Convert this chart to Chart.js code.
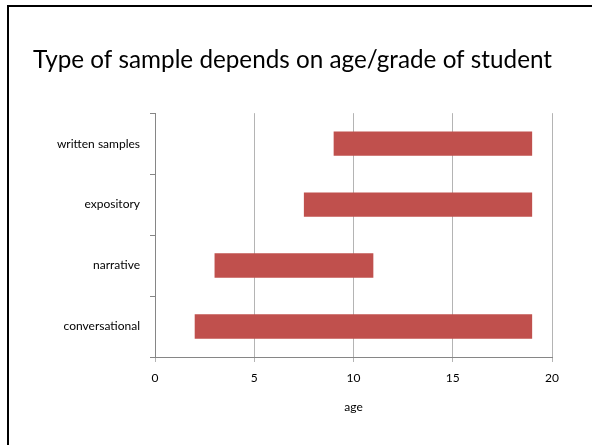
<!DOCTYPE html>
<html>
<head>
<meta charset="utf-8">
<script src="https://cdn.jsdelivr.net/npm/chart.js@4"></script>
<style>
  body { margin: 0; background: #fff; }
  #wrap { position: relative; width: 592px; height: 445px; overflow: hidden; }
  #frame { position: absolute; left: 7px; top: 5px; width: 600px; height: 460px;
           border-left: 2.5px solid #000; border-top: 2.5px solid #000; }
  canvas { position: absolute; left: 0; top: 0; }
</style>
</head>
<body>
<div id="wrap">
  <div id="frame"></div>
  <canvas id="ageChart" width="592" height="445"></canvas>
</div>
<script>
// categories listed top to bottom
const categories = ["written samples", "expository", "narrative", "conversational"];
const startAge = [9, 7.5, 3, 2];
const endAge = [19, 19, 11, 19];
const ageTicks = [0, 5, 10, 15, 20];

const ranges = categories.map((c, i) => [startAge[i], endAge[i]]);

const ctx = document.getElementById("ageChart").getContext("2d");
const ageChart = new Chart(ctx, {
  type: "bar",
  data: {
    labels: categories,
    datasets: [
      {
        label: "age range",
        data: ranges,
        backgroundColor: "#C0504D",
        borderWidth: 0,
        barPercentage: 0.4,
        categoryPercentage: 1,
      },
    ],
  },
  options: {
    indexAxis: "y",
    responsive: false,
    animation: false,
    layout: { padding: { left: 33, right: 40, top: 0, bottom: 28 } },
    plugins: {
      legend: { display: false },
      tooltip: { enabled: false },
      title: {
        display: true,
        text: "Type of sample depends on age/grade of student",
        align: "start",
        color: "#000",
        font: { family: "Lato", size: 24.3, weight: "normal" },
        padding: { top: 46, bottom: 38 },
      },
    },
    scales: {
      x: {
        min: 0,
        max: 20,
        afterBuildTicks: (s) => { s.ticks = ageTicks.map((v) => ({ value: v })); },
        afterFit: (s) => { s.height = 60; },
        grid: { color: "#b4b4b4", tickLength: 5 },
        border: { color: "#868686" },
        ticks: { color: "#000", padding: 9, font: { family: "Lato", size: 12 } },
        title: {
          display: true,
          text: "age",
          color: "#000",
          font: { family: "Lato", size: 12 },
          padding: { top: 0, bottom: 3 },
        },
      },
      y: {
        afterFit: (s) => { s.width = 122; },
        grid: { drawOnChartArea: false, offset: true, tickLength: 5, color: "#868686" },
        border: { color: "#868686" },
        ticks: { color: "#000", padding: 10, font: { family: "Lato", size: 12 } },
      },
    },
  },
});
</script>
</body>
</html>
